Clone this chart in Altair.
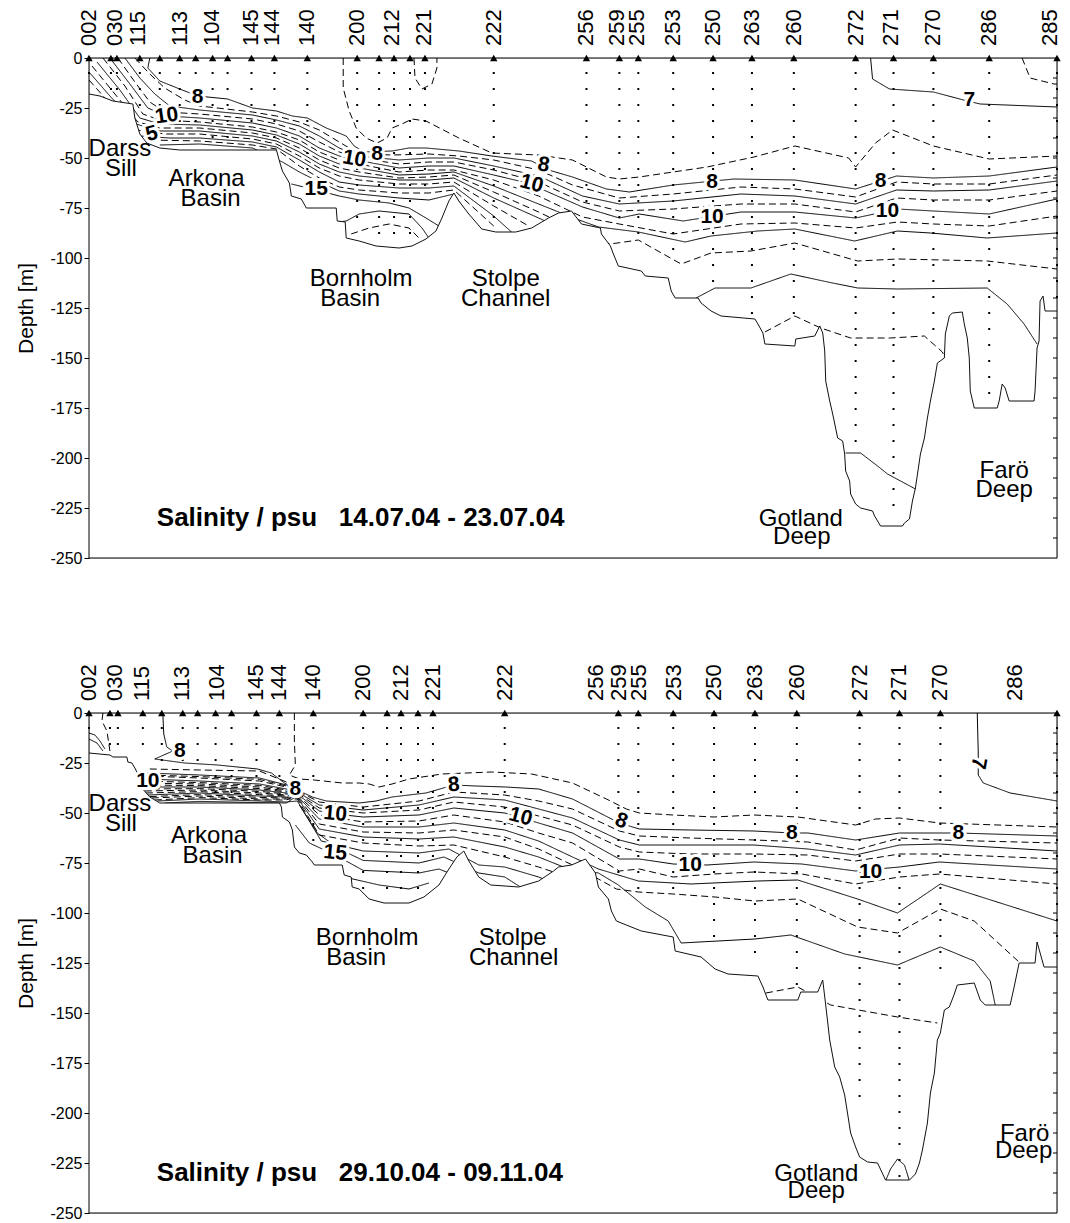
import altair as alt
import pandas as pd

W, H = 968, 500
XDOM = [89, 1060]          # distance along the section (arbitrary units)
YDOM = [-250, 0]           # depth [m]
FONT = "Liberation Sans"

# ----------------------------------------------------------------- top panel
TOP_TITLE = "Salinity / psu\u00a0\u00a0\u00a014.07.04 - 23.07.04"
TOP_LABELS = ["002", "030", "115", "113", "104", "145", "144", "140", "200", "212", "221", "222",
              "256", "259", "255", "253", "250", "263", "260", "272", "271", "270", "286", "285"]
TOP_LABEL_X = [89, 115, 138, 180, 212, 252, 273, 308, 358, 393, 425, 495,
               588, 619, 639, 675, 715, 754, 796, 858, 893, 936, 992, 1053]
TOP_STATION_X = [89, 111, 117, 140, 160, 180, 196, 213, 228, 252, 275, 308, 358, 380, 395, 411, 426, 495,
                 588, 621, 640, 675, 715, 754, 796, 858, 896, 936, 992, 1060]
TOP_STATION_BOTTOM = [-14, -20, -18, -30, -30, -36, -38, -40, -40, -38, -41, -71, -86, -91, -92, -91, -71, -80,
                      -76, -86, -89, -96, -119, -129, -133, -198, -227, -140, -170, -120]
TOP_TOPO = [(89, -18), (100, -19), (113, -21.5), (133, -23), (135, -30), (140, -38), (147, -42.5), (160, -45),
            (180, -46), (277, -46), (280, -51.5), (283, -56.5), (290, -62.5), (292, -69), (302, -70.5),
            (307, -75), (337, -75), (338, -81.5), (346, -82), (347, -90), (360, -91.5), (377, -94), (400, -95),
            (413, -94), (427, -90.5), (437, -86.5), (443, -80), (450, -71.5), (455, -67.5), (460, -71.5),
            (470, -78), (483, -85.5), (497, -87), (517, -87), (533, -85), (550, -80), (560, -77.5), (573, -76.5),
            (583, -83), (602, -85), (603, -88), (612, -94), (615, -98), (620, -104), (643, -106.5), (647, -109),
            (670, -110), (673, -116.5), (677, -120), (700, -120), (703, -122.5), (713, -126.5), (723, -129),
            (757, -130.5), (760, -133), (765, -137.5), (767, -143), (797, -144), (798, -140.5), (817, -139),
            (822, -134), (825, -137.5), (827, -146.5), (828, -161.5), (832, -171.5), (835, -178), (840, -190),
            (845, -191.5), (847, -198), (848, -206.5), (852, -211.5), (853, -218), (858, -223), (863, -225),
            (875, -226.5), (877, -229), (883, -234), (905, -234), (907, -232.5), (912, -230.5), (915, -221.5),
            (918, -215), (923, -198), (927, -190), (930, -180), (933, -171.5), (937, -161.5), (940, -152.5),
            (947, -150), (948, -138), (952, -129), (955, -127.5), (965, -127), (967, -133), (970, -140),
            (972, -150), (973, -166.5), (977, -175), (1000, -175), (1002, -171.5), (1005, -163), (1008, -165),
            (1012, -171.5), (1037, -171.5), (1038, -166.5), (1040, -145), (1042, -141.5), (1043, -121.5),
            (1046, -119), (1048, -126.5), (1060, -126.5)]
TOP_CONTOURS = {
    "t7": ("solid", [(873, 0), (875, -10.5), (892, -15.5), (936, -17), (970, -21.5), (983, -23), (1060, -24.5)]),
    "t65": ("dashed", [(1025, 0), (1033, -10), (1057, -13), (1060, -13)]),
    "t221": ("dashed", [(415, 0), (416, -10), (423, -15.5), (433, -13), (438, -5), (438, 0)]),
    "t75": ("dashed", [(344, 0), (344, -15), (350, -26.5), (357, -35), (367, -40), (378, -42.5), (388, -40),
                       (393, -35), (403, -33), (413, -30.5), (427, -31.5), (460, -40), (493, -47.5), (540, -48.5),
                       (574, -51), (608, -59.5), (621, -60.5), (641, -59.5), (675, -57), (709, -54.5),
                       (756, -49.5), (797, -44), (851, -50), (858, -54.5), (878, -42.5), (895, -36), (936, -44),
                       (992, -50.5), (1060, -49)]),
    "t8": ("solid", [(150, 0), (148, -5), (160, -11.5), (180, -15.5), (198, -19), (228, -20.5), (253, -25),
                     (277, -26.5), (293, -29), (308, -30), (327, -35), (347, -39), (355, -44), (365, -47),
                     (393, -46.5), (410, -45), (427, -45), (460, -46.5), (493, -49), (533, -51.5), (550, -56),
                     (574, -59.5), (608, -65.5), (631, -67), (675, -63.5), (736, -60.5), (797, -61), (858, -65.5),
                     (899, -59), (936, -60), (992, -59), (1060, -54.5)]),
    "t85": ("dashed", [(135, 0), (150, -8), (165, -15), (185, -21), (200, -24), (253, -27), (277, -29), (300, -32),
                       (320, -36), (340, -42), (360, -48), (393, -48.5), (430, -48), (460, -49), (495, -51),
                       (540, -56), (574, -63.5), (621, -70), (675, -68), (743, -64.5), (797, -65.5), (858, -69.5),
                       (899, -62), (936, -63), (992, -63), (1060, -58.5)]),
    "t9": ("solid", [(125, 0), (140, -10), (155, -18), (170, -24), (200, -26), (253, -28.5), (277, -31), (300, -34),
                     (320, -39), (340, -45), (360, -49), (400, -51), (430, -50), (455, -50), (495, -54), (540, -59),
                     (584, -69), (621, -73), (675, -71.5), (743, -68), (797, -69), (858, -73), (899, -66),
                     (936, -66.5), (992, -66), (1060, -61.5)]),
    "t95": ("dashed", [(118, 0), (135, -12), (150, -22), (165, -27), (200, -28), (253, -30.5), (277, -33),
                       (300, -36.5), (320, -42), (340, -47), (360, -50), (400, -53), (430, -52), (455, -52),
                       (495, -56), (540, -62), (584, -72), (621, -76.5), (675, -75.5), (743, -73), (797, -73),
                       (858, -77), (899, -70), (936, -71), (992, -71), (1060, -66.5)]),
    "t10": ("solid", [(110, 0), (130, -13), (148, -25), (167, -29), (200, -30), (253, -32.5), (277, -35),
                      (300, -39), (320, -45), (340, -49), (357, -51), (400, -55), (430, -54), (455, -54),
                      (495, -58.5), (533, -63), (545, -66), (584, -74.5), (621, -80), (641, -78), (685, -81.5),
                      (743, -77), (797, -77), (858, -80), (900, -75.5), (936, -76.5), (992, -78), (1060, -70.5)]),
    "t105": ("dashed", [(103, 0), (125, -14), (143, -28), (160, -31), (200, -32), (253, -34.5), (277, -37),
                        (300, -41), (320, -47), (340, -51), (360, -53), (400, -57), (430, -56), (455, -56),
                        (495, -61), (540, -69), (584, -79.5), (621, -83), (675, -88), (743, -83), (797, -82.5),
                        (858, -85), (900, -82), (936, -83), (992, -84), (1060, -79)]),
    "t11": ("solid", [(97, -2), (120, -16), (140, -30), (160, -33), (200, -33.5), (253, -36), (277, -38.5),
                      (300, -43), (320, -49), (340, -53), (360, -55), (400, -58.5), (430, -58), (455, -57),
                      (495, -64), (540, -73), (575, -80), (600, -84.5), (640, -87), (687, -92), (713, -89),
                      (760, -86.5), (797, -85.5), (857, -91.5), (900, -86.5), (933, -87.5), (990, -90),
                      (1060, -87.5)]),
    "t115": ("dashed", [(92, -4), (115, -18), (138, -32), (160, -35), (200, -35), (253, -37.5), (277, -40),
                        (300, -45), (320, -51), (340, -55), (360, -57), (400, -60), (430, -59.5), (455, -58.5),
                        (495, -67), (540, -77), (590, -89), (612, -93), (640, -91), (683, -103), (713, -97.5),
                        (753, -96.5), (797, -92.5), (860, -101.5), (900, -100.5), (990, -101.5), (1060, -105.5)]),
    "t12": ("solid", [(89, -7), (110, -19), (136, -33), (160, -36.5), (200, -36.5), (253, -39), (277, -41.5),
                      (300, -47), (320, -53), (340, -57), (360, -59), (400, -61), (430, -61), (455, -60),
                      (495, -70), (540, -80), (575, -88)]),
    "t12r": ("solid", [(698, -120), (717, -115), (753, -115), (793, -108), (830, -112), (860, -115),
                       (900, -115.5), (990, -115), (1010, -123), (1027, -133), (1040, -143)]),
    "t125": ("dashed", [(89, -11), (105, -20), (137, -36), (165, -38), (200, -38), (253, -40.5), (277, -43),
                        (300, -49), (320, -55), (340, -59), (360, -61), (400, -63), (430, -63), (455, -62),
                        (495, -74), (530, -84)]),
    "t125r": ("dashed", [(767, -137), (797, -129), (823, -135), (853, -140), (893, -140), (927, -139),
                         (945, -147), (950, -152)]),
    "t13": ("solid", [(140, -39), (170, -40), (200, -40), (253, -42), (277, -44.5), (300, -51), (320, -57),
                      (340, -62), (360, -63.5), (400, -65), (430, -65), (455, -64), (495, -79), (515, -88)]),
    "t13r": ("solid", [(848, -197.5), (863, -197.5), (880, -204), (890, -208), (918, -215.5)]),
    "t135": ("dashed", [(150, -41), (200, -41.5), (253, -43.5), (277, -45.5), (300, -54), (320, -60),
                        (340, -64.5), (360, -66), (400, -67.5), (430, -67.5), (455, -66), (495, -84)]),
    "t14": ("solid", [(160, -43.5), (200, -43), (253, -45), (283, -52), (300, -57), (320, -62), (340, -66.5),
                      (360, -68), (400, -70), (430, -71), (455, -68), (480, -86)]),
    "t15": ("solid", [(292, -63), (317, -66), (340, -69), (360, -71), (390, -72.5), (410, -75), (427, -80),
                      (440, -84)]),
    "t16": ("solid", [(338, -82), (347, -81.5), (360, -78), (380, -76.5), (410, -78), (423, -85), (430, -90)]),
    "t165": ("dashed", [(352, -88), (370, -85), (390, -83), (410, -85), (420, -90)]),
}
TOP_CLABELS = [("8", 198, -19.5, 0), ("10", 167, -29, 352), ("5", 152, -38, 345), ("10", 355, -50.5, 10),
               ("8", 378, -48, 0), ("15", 317, -65.5, 0), ("8", 545, -53.5, 10), ("10", 533, -63, 15),
               ("8", 714, -62, 0), ("10", 714, -79.5, 0), ("8", 883, -61.5, 0), ("10", 890, -76.5, 0),
               ("7", 972, -21, 0)]
TOP_REGIONS = [("Darss", 120, -49), ("Sill", 121, -59), ("Arkona", 207, -64), ("Basin", 211, -74),
               ("Bornholm", 362, -114), ("Basin", 351, -124), ("Stolpe", 507, -114), ("Channel", 507, -124),
               ("Gotland", 803, -234), ("Deep", 804, -243), ("Farö", 1007, -210), ("Deep", 1007, -219.5)]

# -------------------------------------------------------------- bottom panel
BOT_TITLE = "Salinity / psu\u00a0\u00a0\u00a029.10.04 - 09.11.04"
BOT_LABELS = ["002", "030", "115", "113", "104", "145", "144", "140", "200", "212", "221", "222",
              "256", "259", "255", "253", "250", "263", "260", "272", "271", "270", "286"]
BOT_LABEL_X = [89, 115, 142, 182, 217, 257, 280, 314, 364, 402, 434, 506,
               598, 621, 641, 676, 716, 757, 799, 862, 902, 943, 1018]
BOT_STATION_X = [89, 110, 118, 143, 162, 183, 198, 216, 232, 257, 280, 314, 364, 388, 402, 419, 434, 506,
                 620, 640, 675, 716, 757, 799, 862, 902, 943, 1060]
BOT_STATION_BOTTOM = [-12, -19, -21, -21, -26, -28, -30, -40, -40, -40, -38, -68, -88, -92, -92, -90, -75, -79,
                      -84, -90, -90, -117, -123, -137, -195, -232, -134, -120]
BOT_TOPO = [(89, -20), (110, -21), (113, -22), (127, -22), (128, -24.5), (132, -25), (135, -27.5), (137, -29.5),
            (140, -35), (142, -37.5), (150, -42), (160, -45), (280, -45), (282, -47), (283, -52), (290, -54.5),
            (293, -58.5), (295, -67), (300, -70), (307, -71), (313, -74.5), (315, -76), (343, -76), (345, -81),
            (352, -82), (353, -87), (360, -88), (370, -93), (385, -95), (410, -95), (425, -92), (440, -86),
            (450, -78), (458, -72), (465, -69), (470, -74), (480, -82), (492, -86), (520, -87), (540, -84),
            (555, -79), (560, -77), (573, -76), (587, -73), (597, -80), (600, -87), (610, -93), (613, -99),
            (618, -104), (643, -109), (675, -112), (677, -119), (703, -122), (717, -128), (730, -130.5),
            (760, -131.5), (765, -137), (770, -143.5), (800, -143.5), (803, -139.5), (820, -139.5), (825, -133.5),
            (828, -146), (832, -163.5), (837, -177), (842, -182), (847, -191), (853, -210), (858, -217),
            (862, -222), (870, -224.5), (880, -225), (888, -233.5), (912, -233.5), (918, -230.5), (922, -225),
            (925, -218.5), (930, -205), (933, -190), (937, -180), (940, -163.5), (943, -160), (947, -148.5),
            (952, -147), (957, -140.5), (960, -136), (977, -135), (983, -143.5), (988, -146), (1013, -146),
            (1017, -137), (1022, -125), (1038, -125), (1040, -114.5), (1047, -127), (1060, -127)]
BOT_CONTOURS = {
    "b7": ("solid", [(980, 0), (981, -19.5), (981, -31), (986, -35), (1013, -40), (1060, -44)]),
    "b030": ("dashed", [(103, 0), (102, -4), (107, -9), (110, -19)]),
    "bs1": ("solid", [(89, -10), (95, -11), (100, -14), (105, -18)]),
    "bs2": ("solid", [(89, -13), (97, -15), (103, -19)]),
    "b75": ("dashed", [(295, 0), (295, -14), (296, -26), (290, -31), (300, -33), (315, -33.5), (343, -35),
                       (360, -35), (370, -35.5), (380, -37), (393, -35.5), (410, -33), (443, -30.5), (493, -29.5),
                       (533, -30.5), (574, -35), (608, -43), (628, -48), (641, -50), (675, -51), (716, -52),
                       (756, -51), (800, -52), (858, -56), (878, -53), (902, -52.5), (942, -55), (1060, -57)]),
    "b8": ("solid", [(163, 0), (164, -10.5), (167, -17), (173, -19), (155, -23), (185, -25), (218, -26),
                     (258, -28), (272, -30), (285, -35), (296, -38), (313, -42), (327, -44), (360, -45),
                     (377, -44), (393, -42), (427, -40), (455, -36), (477, -36.5), (507, -37), (540, -38),
                     (574, -43), (621, -55), (641, -58), (692, -58.5), (756, -59), (794, -60), (810, -60),
                     (858, -63.5), (902, -60), (961, -60), (1060, -61.5)]),
    "b85": ("dashed", [(150, -28), (200, -28.5), (260, -29), (287, -34.5), (298, -39), (320, -44.5), (364, -47),
                       (420, -44), (455, -39.5), (506, -41), (540, -44), (574, -48), (621, -59), (641, -61.5),
                       (692, -62.5), (756, -63.5), (810, -64.5), (858, -68.5), (902, -62.5), (942, -63.5),
                       (1060, -65)]),
    "ba1": ("dashed", [(148, -31), (200, -31.8), (260, -33.2), (287, -36.5), (296, -38.5)]),
    "b9": ("solid", [(147, -30), (200, -31), (260, -32.5), (287, -36), (298, -39.5), (320, -46), (364, -48.5),
                     (420, -46), (455, -42), (506, -43.5), (540, -48), (574, -52.5), (621, -63.5), (641, -66),
                     (692, -66), (756, -66), (810, -68), (858, -71), (902, -66), (942, -65.5), (1060, -69)]),
    "b95": ("dashed", [(146, -31.5), (200, -32.5), (260, -34), (287, -37), (298, -40), (320, -47.5), (364, -50),
                       (420, -48.5), (455, -44.5), (506, -47), (540, -51.5), (574, -56), (621, -67), (641, -69.5),
                       (692, -70.5), (756, -70.5), (810, -71), (858, -74), (902, -70.5), (942, -70.5),
                       (1060, -73)]),
    "ba2": ("dashed", [(145, -34), (200, -34.8), (260, -36.2), (287, -38.5), (296, -39)]),
    "b10": ("solid", [(145, -33), (200, -34), (260, -35.5), (287, -38), (298, -40.5), (320, -49), (336, -50.5),
                      (364, -52), (420, -51), (455, -47.5), (506, -50), (540, -55), (574, -60), (621, -73),
                      (641, -73), (675, -75.5), (709, -76), (756, -74.5), (804, -75.5), (858, -79), (902, -77),
                      (942, -74.5), (1060, -78)]),
    "ba3": ("dashed", [(143, -36), (200, -36.3), (260, -37.8), (287, -39.5), (296, -39.5)]),
    "b105": ("dashed", [(143, -35), (200, -35.5), (260, -37), (287, -39), (298, -41), (320, -51), (364, -54.5),
                        (420, -54), (455, -51), (506, -54.5), (540, -60), (574, -65), (621, -79), (641, -78),
                        (675, -82), (716, -80.5), (756, -79.5), (804, -80.5), (858, -85.5), (902, -82),
                        (942, -80.5), (1060, -85.5)]),
    "ba4": ("dashed", [(142, -38), (200, -37.8), (260, -39.2), (287, -40.5), (296, -40)]),
    "b11": ("solid", [(142, -37), (200, -37), (260, -38.5), (287, -40), (298, -41.5), (320, -53), (364, -57),
                      (420, -57), (455, -55), (506, -58.5), (540, -64), (574, -72), (600, -78), (620, -81),
                      (640, -84), (693, -85.5), (760, -84), (800, -83.5), (860, -93), (900, -100), (943, -85.5),
                      (1060, -104)]),
    "ba5": ("dashed", [(146, -40), (200, -39.3), (260, -40.8), (287, -41.5), (296, -40.5)]),
    "b115": ("dashed", [(145, -39), (200, -38.5), (260, -40), (287, -41), (298, -42), (320, -55.5), (364, -59.5),
                        (420, -60), (455, -58.5), (506, -62), (540, -68), (574, -76), (600, -83), (618, -88),
                        (640, -89.5), (675, -90.5), (717, -92), (757, -94), (800, -93), (860, -107), (900, -110),
                        (943, -98), (977, -104), (1023, -125)]),
    "ba6": ("dashed", [(150, -41.8), (200, -40.8), (260, -42.2), (287, -42.5), (296, -41)]),
    "b12": ("solid", [(148, -41), (200, -40), (260, -41.5), (287, -42), (298, -42.5), (320, -58), (364, -62),
                      (420, -63), (455, -62), (506, -67), (540, -72), (570, -78), (600, -80), (620, -86),
                      (647, -97), (670, -104), (683, -115), (757, -113), (793, -111), (847, -120.5), (900, -126),
                      (943, -117), (977, -124), (993, -134), (998, -146)]),
    "ba7": ("dashed", [(155, -43.5), (200, -42.3), (260, -43.5), (287, -43.5), (296, -41.5)]),
    "b125": ("dashed", [(152, -42.5), (200, -41.5), (260, -43), (287, -43), (298, -43), (320, -61), (364, -65),
                        (420, -66.5), (455, -66), (506, -72), (540, -77), (570, -82)]),
    "b125r": ("dashed", [(768, -140), (800, -137), (833, -146), (900, -152), (940, -155)]),
    "ba8": ("solid", [(165, -45), (200, -44.2), (260, -44.8), (287, -45), (296, -42)]),
    "b13": ("solid", [(158, -44), (200, -43), (260, -44), (287, -44.5), (298, -44), (322, -64), (364, -69),
                      (420, -70), (450, -68), (480, -76), (506, -77), (540, -82), (555, -85)]),
    "b14": ("solid", [(300, -46), (318, -60), (340, -68), (364, -73.7), (420, -75), (445, -72), (480, -80),
                      (506, -82), (525, -88)]),
    "b15": ("solid", [(296, -56), (310, -65), (336, -71), (364, -78.7), (420, -80), (440, -78), (470, -84),
                      (490, -88)]),
    "b16": ("solid", [(345, -82), (380, -86), (410, -88), (430, -85)]),
    "bgot": ("solid", [(888, -234), (893, -228), (900, -223), (907, -226), (912, -234)]),
}
BOT_CLABELS = [("8", 180, -19, 0), ("10", 148, -34, 0), ("8", 296, -38, 0), ("10", 336, -50.5, 5),
               ("15", 336, -70, 5), ("8", 455, -36, 355), ("10", 522, -52, 15), ("8", 623, -54, 20),
               ("10", 692, -76, 0), ("8", 794, -60, 0), ("10", 873, -79.5, 0), ("8", 961, -60, 0),
               ("7", 981, -25, 100)]
BOT_REGIONS = [("Darss", 120, -48.75), ("Sill", 121, -58.75), ("Arkona", 209.5, -64.75), ("Basin", 213, -74.75),
               ("Bornholm", 368, -116), ("Basin", 357, -126), ("Stolpe", 514, -116), ("Channel", 515, -126),
               ("Gotland", 818.5, -233.75), ("Deep", 818.5, -242.5), ("Farö", 1027.5, -213.75),
               ("Deep", 1026.5, -222.5)]

RIGHT_TICKS = [-10, -20, -30, -40, -50, -60, -70, -80, -90, -100, -110, -120, -130, -140, -150, -160,
               -170, -180, -190, -200, -210, -220, -230, -240]
LEFT_TICKS = [0, -25, -50, -75, -100, -125, -150, -175, -200, -225, -250]

XS = alt.Scale(domain=XDOM, nice=False, zero=False)
YS = alt.Scale(domain=YDOM, nice=False, zero=False)
YAX = alt.Axis(values=LEFT_TICKS, labelExpr="'' + datum.value", tickSize=5, labelFontSize=16,
               title="Depth [m]", titleFontSize=21, titleFontWeight="normal", domain=False, grid=False,
               labelColor="black", tickColor="black", titleColor="black", labelPadding=2, titlePadding=13,
               labelFont=FONT, titleFont=FONT)


def X():
    return alt.X("x:Q", scale=XS, axis=None)


def Y(field):
    return alt.Y(field, scale=YS, axis=YAX)


def panel(title, labels, label_x, st_x, st_bottom, topo, contours, clabels, regions):
    rows = []
    for name, (style, pts) in contours.items():
        for i, (x, d) in enumerate(pts):
            rows.append({"cid": name, "style": style, "i": i, "x": x, "d": d})
    cdf = pd.DataFrame(rows)
    tdf = pd.DataFrame(topo, columns=["x", "d"])
    tdf["floor"] = YDOM[0]
    sdf = pd.DataFrame({"x": st_x, "bottom": st_bottom})
    sdf["d"] = 0
    ldf = pd.DataFrame({"x": label_x, "lab": labels})
    kdf = pd.DataFrame(clabels, columns=["lab", "x", "d", "ang"])
    rdf = pd.DataFrame(regions, columns=["txt", "x", "d"])
    hdf = pd.DataFrame({"txt": [title], "x": [157], "d": [-234]})
    frame = pd.DataFrame({"a": [0]})
    tick_df = pd.DataFrame({"d": RIGHT_TICKS})

    lines = alt.Chart(cdf).mark_line(color="black", strokeWidth=1).encode(
        x=X(), y=Y("d:Q"), detail="cid:N", order="i:Q",
        strokeDash=alt.StrokeDash("style:N", scale=alt.Scale(domain=["solid", "dashed"],
                                                               range=[[1, 0], [7, 4]]), legend=None))
    mask = alt.Chart(tdf).mark_area(color="white", opacity=1).encode(x=X(), y=Y("d:Q"), y2="floor:Q")
    bottom_line = alt.Chart(tdf).mark_line(color="#111", strokeWidth=1).encode(x=X(), y=Y("d:Q"))
    dots = alt.Chart(sdf).mark_rule(color="black", strokeWidth=2, strokeDash=[2, 14], strokeDashOffset=2).encode(
        x=X(), y=Y("d:Q"), y2="bottom:Q")
    tri = alt.Chart(sdf).mark_point(shape="triangle-up", filled=True, color="black", size=55, opacity=1).encode(
        x=X(), y=Y("d:Q"))
    slab = alt.Chart(ldf).mark_text(angle=270, align="left", baseline="middle", fontSize=22, font=FONT,
                                    color="black").encode(x=X(), y=alt.value(-12), text="lab:N")
    halo = alt.Chart(kdf).mark_text(fontSize=21, fontWeight="bold", font=FONT, stroke="white", strokeWidth=6,
                                    fill="white", baseline="middle", align="center").encode(
        x=X(), y=Y("d:Q"), text="lab:N", angle=alt.Angle("ang:Q", scale=None))
    klab = alt.Chart(kdf).mark_text(fontSize=21, fontWeight="bold", font=FONT, color="black",
                                    baseline="middle", align="center").encode(
        x=X(), y=Y("d:Q"), text="lab:N", angle=alt.Angle("ang:Q", scale=None))
    reg = alt.Chart(rdf).mark_text(fontSize=24, font=FONT, color="black", align="center",
                                   baseline="alphabetic").encode(x=X(), y=Y("d:Q"), text="txt:N")
    ttl = alt.Chart(hdf).mark_text(fontSize=26, fontWeight="bold", font=FONT, color="black", align="left",
                                   baseline="alphabetic").encode(x=X(), y=Y("d:Q"), text="txt:N")
    rticks = alt.Chart(tick_df).mark_rule(color="black", strokeWidth=1).encode(
        y=Y("d:Q"), x=alt.value(W - 4), x2=alt.value(W))
    box = alt.Chart(frame).mark_rect(filled=False, stroke="black", strokeWidth=1).encode(
        x=alt.value(0), x2=alt.value(W), y=alt.value(0), y2=alt.value(H))
    return alt.layer(lines, mask, bottom_line, dots, tri, slab, halo, klab, reg, ttl, rticks, box).properties(
        width=W, height=H)


top = panel(TOP_TITLE, TOP_LABELS, TOP_LABEL_X, TOP_STATION_X, TOP_STATION_BOTTOM, TOP_TOPO, TOP_CONTOURS,
            TOP_CLABELS, TOP_REGIONS)
bot = panel(BOT_TITLE, BOT_LABELS, BOT_LABEL_X, BOT_STATION_X, BOT_STATION_BOTTOM, BOT_TOPO, BOT_CONTOURS,
            BOT_CLABELS, BOT_REGIONS)

chart = alt.vconcat(top, bot, spacing=96).properties(
    padding={"left": 7, "top": 0, "right": 0, "bottom": 0}
).configure_view(stroke=None).configure(font=FONT, background="white")

chart.save("out.html", embed_options={"renderer": "svg", "actions": False})
